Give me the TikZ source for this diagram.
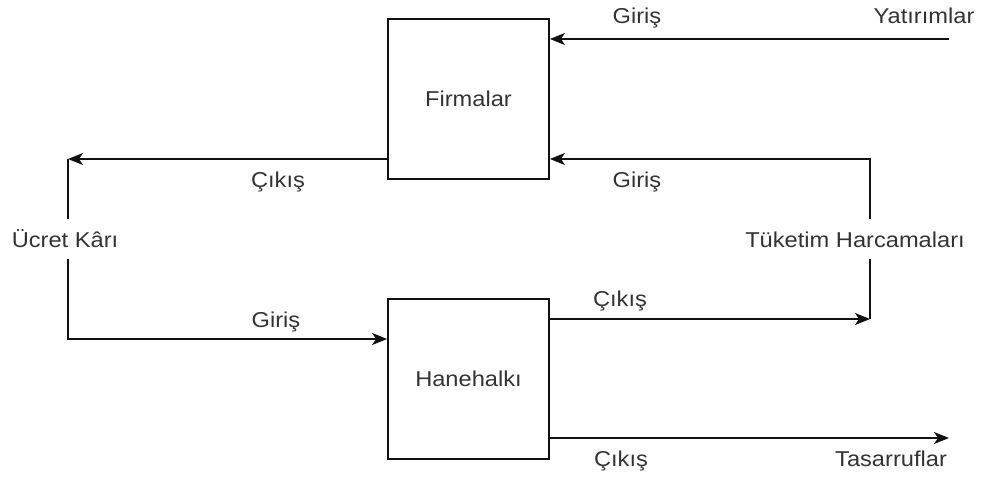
\documentclass[tikz,border=0pt]{standalone}
\usepackage{fontspec}
\setmainfont{Liberation Sans}[FakeStretch=1.1]
\usetikzlibrary{arrows.meta}
\definecolor{txt}{HTML}{333333}
\definecolor{ln}{HTML}{111111}
\begin{document}
\begin{tikzpicture}[x=1pt,y=-1pt,
  box/.style={draw=ln, line width=1.8pt, minimum width=161pt, minimum height=160pt,
    inner sep=0pt, font=\fontsize{21.5}{26}\selectfont, text=txt},
  lbl/.style={font=\fontsize{21.5}{26}\selectfont, text=txt, inner sep=0pt, anchor=base},
  cutlbl/.style={lbl, text height=16pt, text depth=0pt, inner ysep=12pt},
  seg/.style={draw=ln, line width=1.8pt},
  flow/.style={seg, -{Stealth[length=15pt,width=12pt,inset=4pt]}}]
\useasboundingbox (0,0) rectangle (981,476);

% the two sectors
\node[box] (firm) at (468.5,99) {Firmalar};
\node[box] (hane) at (468.5,379) {Hanehalkı};

% free ends and corners of the flows
\coordinate (yat) at (949,39);
\coordinate (tl) at (68,159);
\coordinate (bl) at (68,339);
\coordinate (tr) at (870,159);
\coordinate (br) at (870,319);
\coordinate (sav) at (949,438);

% labels
\node[lbl] (g1) at (637,24) {Giriş};
\node[lbl] (yl) at (924,24) {Yatırımlar};
\node[lbl] (c1) at (278,187) {Çıkış};
\node[lbl] (g2) at (637,187) {Giriş};
\node[cutlbl] (uk) at (65,247) {Ücret Kârı};
\node[cutlbl] (th) at (855,247) {Tüketim Harcamaları};
\node[lbl] (g3) at (276,327) {Giriş};
\node[lbl] (c2) at (620,306) {Çıkış};
\node[lbl] (c3) at (621,466) {Çıkış};
\node[lbl] (ts) at (891,466) {Tasarruflar};

% investment into firms
\draw[flow] (yat) -- (firm.east |- yat);

% wages and profits: firms to households
\draw[flow] (firm.west |- tl) -- (tl);
\draw[seg] (tl) -- (tl |- uk.north);
\draw[flow] (bl |- uk.south) -- (bl) -- (hane.west |- bl);

% consumption spending: households to firms
\draw[flow] (hane.east |- br) -- (br);
\draw[seg] (br) -- (br |- th.south);
\draw[flow] (tr |- th.north) -- (tr) -- (firm.east |- tr);

% savings out of households
\draw[flow] (hane.east |- sav) -- (sav);
\end{tikzpicture}
\end{document}
